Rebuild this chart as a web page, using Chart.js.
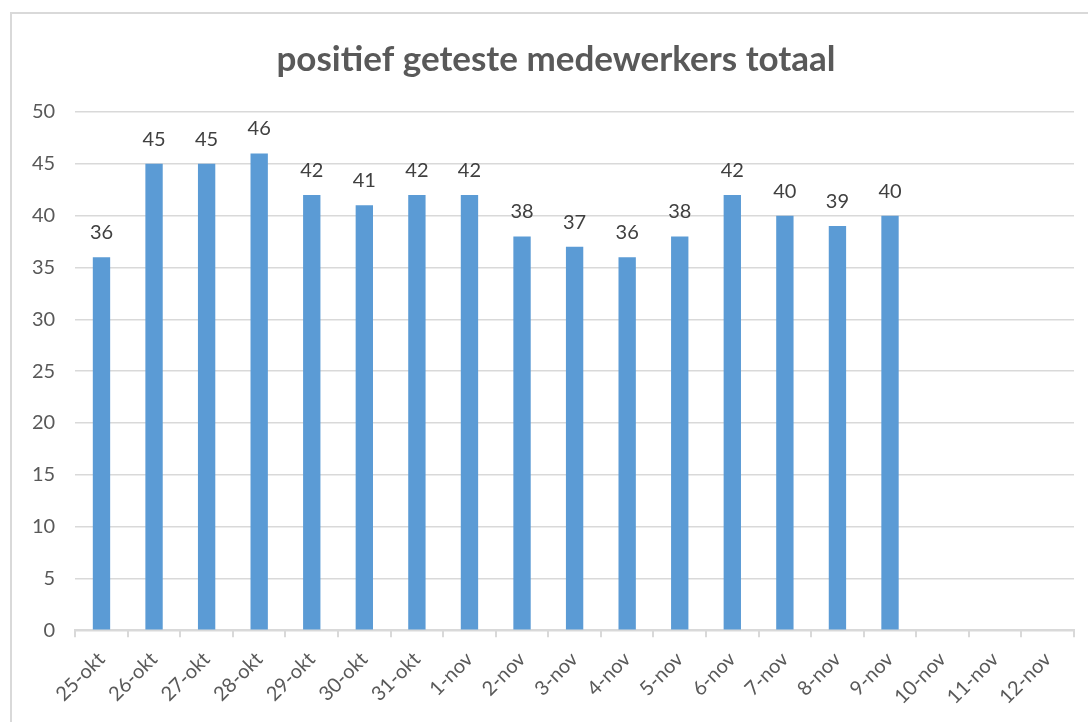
<!DOCTYPE html>
<html><head><meta charset="utf-8">
<script src="https://cdn.jsdelivr.net/npm/chart.js@4/dist/chart.umd.min.js"></script>
<style>
html,body{margin:0;padding:0;background:#fff;overflow:hidden}
#wrap{position:absolute;left:0;top:0;width:1088px;height:722px}
#frame{position:absolute;left:10px;top:12px;width:1090px;height:720px;border:2px solid #d9d9d9;box-sizing:border-box}
canvas{position:absolute;left:0;top:0}
</style></head>
<body>
<div id="wrap"><div id="frame"></div><canvas id="c" width="1088" height="722"></canvas></div>
<script>
const categories = ["25-okt","26-okt","27-okt","28-okt","29-okt","30-okt","31-okt","1-nov","2-nov","3-nov","4-nov","5-nov","6-nov","7-nov","8-nov","9-nov","10-nov","11-nov","12-nov"];
const values = [36,45,45,46,42,41,42,42,38,37,36,38,42,40,39,40,null,null,null];
const yTicks = [0,5,10,15,20,25,30,35,40,45,50];
const titleText = "positief geteste medewerkers totaal";
const FONT = 'Lato, "Open Sans", sans-serif';

const labelPlugin = {
  id:'valueLabels',
  afterDatasetsDraw(chart){
    const ctx = chart.ctx;
    const meta = chart.getDatasetMeta(0);
    ctx.save();
    ctx.font = '20px ' + FONT;
    ctx.fillStyle = '#404040';
    ctx.textAlign = 'center';
    ctx.textBaseline = 'alphabetic';
    meta.data.forEach((bar,i)=>{
      const v = values[i];
      if (v === null || v === undefined) return;
      ctx.fillText(String(v), bar.x, bar.y - 18);
    });
    ctx.restore();
  }
};

const titlePlugin = {
  id:'frameTitle',
  afterDraw(chart){
    const ctx = chart.ctx;
    ctx.save();
    ctx.font = 'bold 35px ' + FONT;
    ctx.fillStyle = '#595959';
    ctx.textAlign = 'center';
    ctx.textBaseline = 'middle';
    ctx.fillText(titleText, 556, 60);
    ctx.restore();
  }
};

new Chart(document.getElementById('c'), {
  type:'bar',
  data:{labels:categories, datasets:[{data:values, backgroundColor:'#5b9bd5', barPercentage:0.33, categoryPercentage:1.0}]},
  options:{
    responsive:false, animation:false, devicePixelRatio:1,
    layout:{padding:{left:12,right:14,top:112,bottom:3}},
    plugins:{
      legend:{display:false}, tooltip:{enabled:false}, title:{display:false}
    },
    scales:{
      x:{
        offset:true,
        grid:{display:true, offset:true, drawOnChartArea:false, drawTicks:true, tickLength:7, color:'#d9d9d9', lineWidth:2},
        border:{display:true, color:'#d9d9d9', width:2},
        ticks:{color:'#595959', minRotation:45, maxRotation:45, autoSkip:false, padding:10,
          font:{family:FONT, size:20}}
      },
      y:{
        min:0, max:50,
        afterBuildTicks(axis){ axis.ticks = yTicks.map(v=>({value:v})); },
        grid:{color:'#d9d9d9', lineWidth:1.5, drawTicks:false},
        border:{display:false},
        ticks:{color:'#595959', padding:20, font:{family:FONT, size:20}}
      }
    }
  },
  plugins:[labelPlugin, titlePlugin]
});
</script>
</body></html>
